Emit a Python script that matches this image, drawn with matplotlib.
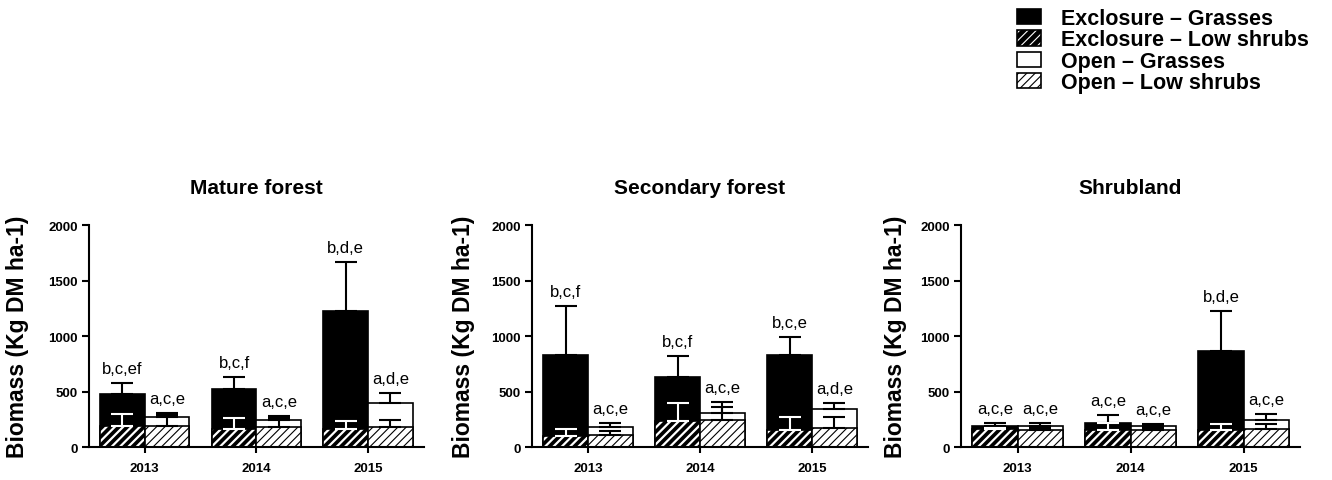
import numpy as np
import matplotlib
matplotlib.use('Agg')
import matplotlib.pyplot as plt
from matplotlib.patches import Patch

plt.rcParams['font.family'] = ['Liberation Sans', 'DejaVu Sans']
plt.rcParams['hatch.linewidth'] = 0.8

years = ['2013', '2014', '2015']
paneles = ['Mature forest', 'Secondary forest', 'Shrubland']

# media y limite superior de la barra de error, por panel y por año
excl_grass = [[477, 519, 1226], [828, 627, 831], [189, 220, 863]]
excl_grass_err = [[576, 627, 1664], [1268, 816, 993], [220, 292, 1224]]
excl_shrub = [[189, 165, 165], [96, 231, 156], [160, 150, 150]]
excl_shrub_err = [[294, 261, 231], [165, 399, 270], [175, 220, 210]]
open_grass = [[273, 240, 393], [177, 303, 342], [190, 186, 244]]
open_grass_err = [[306, 279, 486], [216, 402, 393], [220, 210, 298]]
open_shrub = [[189, 180, 180], [111, 246, 171], [153, 153, 160]]
open_shrub_err = [[285, 262, 246], [140, 360, 270], [175, 175, 210]]

letras_excl = [['b,c,ef', 'b,c,f', 'b,d,e'], ['b,c,f', 'b,c,f', 'b,c,e'], ['a,c,e', 'a,c,e', 'b,d,e']]
letras_open = [['a,c,e', 'a,c,e', 'a,d,e'], ['a,c,e', 'a,c,e', 'a,d,e'], ['a,c,e', 'a,c,e', 'a,c,e']]

fig = plt.figure(figsize=(13.32, 4.81), dpi=100)
lefts = [0.0668, 0.3994, 0.7215]
widths = [0.2515, 0.2523, 0.2545]
ylab_x = [-0.18, -0.17, -0.16]

x = np.arange(len(years))
w = 0.4
ew = 1.5


def hatch_lw(bars, lw):
    for b in bars:
        if hasattr(b, 'set_hatch_linewidth'):
            b.set_hatch_linewidth(lw)


for i in range(3):
    ax = fig.add_axes([lefts[i], 0.0686, widths[i], 0.4615])
    xe = x - w / 2
    xo = x + w / 2
    eg = np.array(excl_grass[i]); es = np.array(excl_shrub[i])
    og = np.array(open_grass[i]); os_ = np.array(open_shrub[i])

    ax.bar(xe, eg, w, color='black', edgecolor='black', linewidth=1.2, zorder=1)
    ax.bar(xo, og, w, color='white', edgecolor='black', linewidth=1.2, zorder=1)
    b1 = ax.bar(xe, es, w, color='black', edgecolor='white', hatch='////', linewidth=0, zorder=2)
    hatch_lw(b1, 1.6)
    ax.bar(xe, es, w, fill=False, edgecolor='black', linewidth=1.2, zorder=2)
    b2 = ax.bar(xo, os_, w, color='white', edgecolor='black', hatch='////', linewidth=1.2, zorder=2)
    hatch_lw(b2, 0.8)

    ax.errorbar(xe, eg, yerr=[np.zeros(3), np.array(excl_grass_err[i]) - eg], fmt='none',
                ecolor='black', elinewidth=ew, capsize=8, capthick=ew, zorder=3)
    ax.errorbar(xo, og, yerr=[np.zeros(3), np.array(open_grass_err[i]) - og], fmt='none',
                ecolor='black', elinewidth=ew, capsize=8, capthick=ew, zorder=3)
    ax.errorbar(xe, es, yerr=[np.zeros(3), np.array(excl_shrub_err[i]) - es], fmt='none',
                ecolor='white', elinewidth=ew, capsize=8, capthick=ew, zorder=3)
    ax.errorbar(xo, os_, yerr=[np.zeros(3), np.array(open_shrub_err[i]) - os_], fmt='none',
                ecolor='black', elinewidth=ew, capsize=8, capthick=ew, zorder=3)

    for j in range(3):
        ax.annotate(letras_excl[i][j], (xe[j], excl_grass_err[i][j]), xytext=(0, 5),
                    textcoords='offset points', ha='center', va='bottom', fontsize=12)
        ax.annotate(letras_open[i][j], (xo[j], open_grass_err[i][j]), xytext=(0, 5),
                    textcoords='offset points', ha='center', va='bottom', fontsize=12)

    ax.set_xlim(-0.5, 2.5)
    ax.set_ylim(0, 2000)
    ax.set_yticks([0, 500, 1000, 1500, 2000])
    ax.set_xticks(x)
    ax.set_xticklabels(years, fontsize=9.5, fontweight='bold')
    for t in ax.get_yticklabels():
        t.set_fontsize(9.5)
        t.set_fontweight('bold')
    ax.spines['top'].set_visible(False)
    ax.spines['right'].set_visible(False)
    ax.spines['left'].set_linewidth(1.5)
    ax.spines['bottom'].set_linewidth(1.5)
    ax.tick_params(axis='y', length=5, width=1.5, pad=3)
    ax.tick_params(axis='x', length=4, width=1.5, pad=7)
    ax.set_title(paneles[i], fontsize=15, fontweight='bold', pad=23)
    ax.set_ylabel('Biomass (Kg DM ha-1)', fontsize=16.5, fontweight='bold')
    ax.yaxis.set_label_coords(ylab_x[i], 0.5)

h1 = Patch(facecolor='black', edgecolor='black', linewidth=1.2)
h2a = Patch(facecolor='black', edgecolor='white', hatch='////', linewidth=0)
h2b = Patch(fill=False, edgecolor='black', linewidth=1.2)
h3 = Patch(facecolor='white', edgecolor='black', linewidth=1.2)
h4 = Patch(facecolor='white', edgecolor='black', hatch='////', linewidth=1.2)
fig.legend([h1, (h2a, h2b), h3, h4],
           ['Exclosure – Grasses', 'Exclosure – Low shrubs', 'Open – Grasses', 'Open – Low shrubs'],
           loc='upper left', bbox_to_anchor=(1017 / 1332, 1 - 9 / 481), frameon=False,
           prop={'size': 15.5, 'weight': 'bold'}, handlelength=1.1, handleheight=0.72,
           handletextpad=0.95, labelspacing=0.02, borderpad=0, borderaxespad=0)

plt.savefig('out.png', dpi=100)
